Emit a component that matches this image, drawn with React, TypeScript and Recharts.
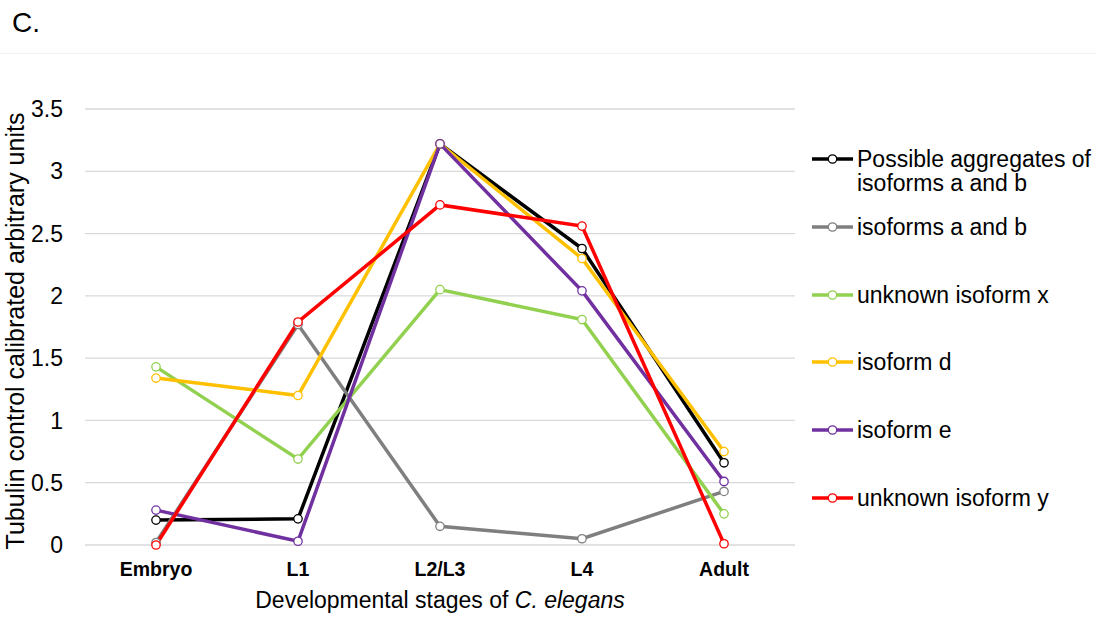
import React from 'react';
import { LineChart, Line, XAxis, YAxis, CartesianGrid, Legend, Label } from 'recharts';

const STAGES = ['Embryo', 'L1', 'L2/L3', 'L4', 'Adult'];
const Y_TICKS = [0, 0.5, 1, 1.5, 2, 2.5, 3, 3.5];

const aggregatesAB = [0.2, 0.21, 3.22, 2.38, 0.66];
const isoformsAB = [0.02, 1.77, 0.15, 0.05, 0.43];
const unknownX = [1.43, 0.69, 2.05, 1.81, 0.25];
const isoformD = [1.34, 1.2, 3.22, 2.3, 0.75];
const isoformE = [0.28, 0.03, 3.22, 2.04, 0.51];
const unknownY = [0.0, 1.79, 2.73, 2.56, 0.01];

const SERIES_NAMES = [
  'Possible aggregates of isoforms a and b',
  'isoforms a and b',
  'unknown isoform x',
  'isoform d',
  'isoform e',
  'unknown isoform y',
];
const SERIES_COLORS = ['#000000', '#7f7f7f', '#92d050', '#ffc000', '#7030a0', '#ff0000'];
const SERIES_VALUES = [aggregatesAB, isoformsAB, unknownX, isoformD, isoformE, unknownY];

const data = STAGES.map((stage, i) => {
  const row: Record<string, any> = { stage };
  SERIES_VALUES.forEach((vals, s) => {
    row['s' + s] = vals[i];
  });
  return row;
});

const FONT = "'Liberation Sans', Arial, sans-serif";

const renderLegend = () => (
  <div style={{ position: 'relative', width: 285, height: 617, fontFamily: FONT }}>
    {SERIES_NAMES.map((name, i) => (
      <div
        key={name}
        style={{
          position: 'absolute',
          left: 0,
          top: 147 + 67.8 * i,
          display: 'flex',
          alignItems: 'flex-start',
        }}
      >
        <svg width={41} height={12} style={{ marginTop: 6, flex: 'none' }}>
          <line x1={0} y1={6} x2={41} y2={6} stroke={SERIES_COLORS[i]} strokeWidth={3.5} />
          <circle cx={20.5} cy={6} r={4.2} fill="#fff" stroke={SERIES_COLORS[i]} strokeWidth={1.3} />
        </svg>
        <div
          style={{
            marginLeft: 4,
            width: 238,
            fontSize: 23,
            lineHeight: '24px',
            color: '#000',
            whiteSpace: 'normal',
          }}
        >
          {name}
        </div>
      </div>
    ))}
  </div>
);

export default function App() {
  return (
    <div
      style={{
        position: 'absolute',
        left: 0,
        top: 0,
        width: 1097,
        height: 617,
        background: '#fff',
        fontFamily: FONT,
      }}
    >
      <div
        style={{
          position: 'absolute',
          left: 12,
          top: 8,
          fontSize: 28,
          lineHeight: '30px',
          color: '#000',
        }}
      >
        C.
      </div>
      <div
        style={{
          position: 'absolute',
          left: 0,
          top: 53,
          width: 1097,
          height: 1,
          background: '#f2f2f2',
        }}
      />
      <div style={{ position: 'absolute', left: 0, top: 0 }}>
        <LineChart
          width={1097}
          height={617}
          data={data}
          margin={{ top: 109, right: 302, bottom: 32, left: 0 }}
        >
          <CartesianGrid horizontal vertical={false} stroke="#d9d9d9" strokeWidth={1.3} />
          <XAxis
            dataKey="stage"
            padding={{ left: 71, right: 71 }}
            axisLine={false}
            tickLine={false}
            tickSize={0}
            tickMargin={17}
            height={40}
            interval={0}
            tick={{ fontSize: 19.5, fontWeight: 'bold', fill: '#000', fontFamily: FONT }}
          >
            <Label
              content={(props: any) => {
                const vb = props.viewBox || {};
                const cx = vb.x + vb.width / 2;
                return (
                  <text
                    x={cx}
                    y={608}
                    textAnchor="middle"
                    fontSize={23}
                    fill="#000"
                    fontFamily={FONT}
                  >
                    Developmental stages of <tspan fontStyle="italic">C. elegans</tspan>
                  </text>
                );
              }}
            />
          </XAxis>
          <YAxis
            type="number"
            domain={[0, 3.5]}
            ticks={Y_TICKS}
            width={85}
            axisLine={false}
            tickLine={false}
            tickSize={0}
            tickMargin={22}
            interval={0}
            tick={{ fontSize: 23, fill: '#000', fontFamily: FONT }}
          >
            <Label
              content={(props: any) => {
                const vb = props.viewBox || {};
                const cy = vb.y + vb.height / 2 + 4;
                return (
                  <text
                    x={24}
                    y={cy}
                    transform={`rotate(-90, 24, ${cy})`}
                    textAnchor="middle"
                    fontSize={25}
                    fill="#000"
                    fontFamily={FONT}
                  >
                    Tubulin control calibrated arbitrary units
                  </text>
                );
              }}
            />
          </YAxis>
          <Legend
            layout="horizontal"
            verticalAlign="middle"
            align="center"
            content={renderLegend}
            wrapperStyle={{ left: 812, top: 0, width: 285, height: 617 }}
          />
          {SERIES_NAMES.map((name, s) => (
            <Line
              key={name}
              type="linear"
              dataKey={'s' + s}
              name={name}
              stroke={SERIES_COLORS[s]}
              strokeWidth={3.5}
              dot={{ r: 4.2, fill: '#fff', stroke: SERIES_COLORS[s], strokeWidth: 1.3 }}
              activeDot={false}
              isAnimationActive={false}
            />
          ))}
        </LineChart>
      </div>
    </div>
  );
}
